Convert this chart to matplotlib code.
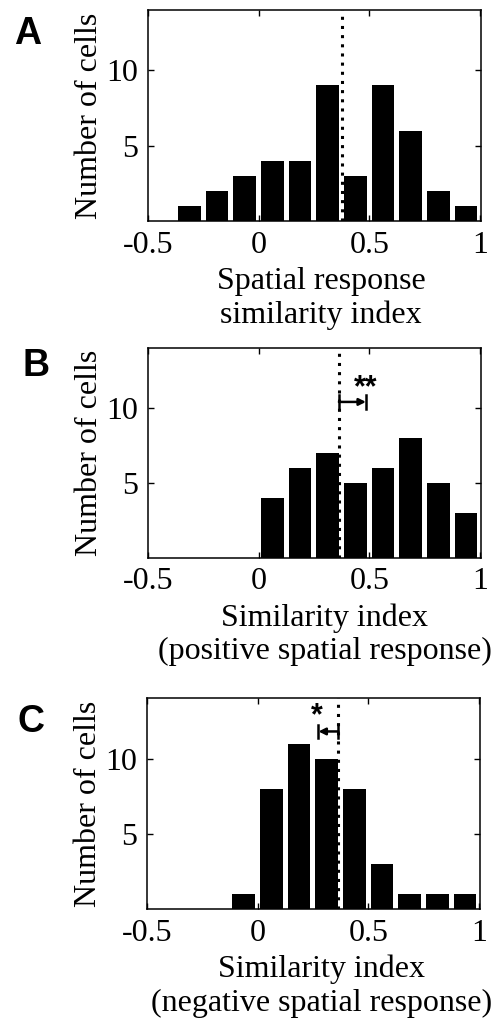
import matplotlib
matplotlib.use("Agg")
import matplotlib.pyplot as plt

# ---- data ----
bin_step = 0.125
a_centers = [-0.3125, -0.1875, -0.0625, 0.0625, 0.1875, 0.3125, 0.4375, 0.5625, 0.6875, 0.8125, 0.9375]
a_counts = [1, 2, 3, 4, 4, 9, 3, 9, 6, 2, 1]
a_mean = 0.376

b_centers = [0.0625, 0.1875, 0.3125, 0.4375, 0.5625, 0.6875, 0.8125, 0.9375]
b_counts = [4, 6, 7, 5, 6, 8, 5, 3]
b_mean = 0.363
b_shift_end = 0.485
b_sig = "**"

c_centers = [-0.0625, 0.0625, 0.1875, 0.3125, 0.4375, 0.5625, 0.6875, 0.8125, 0.9375]
c_counts = [1, 8, 11, 10, 8, 3, 1, 1, 1]
c_mean = 0.365
c_shift_end = 0.275
c_sig = "*"

xticks = [-0.5, 0, 0.5, 1]
xticklabels = ["-0.5", "0", "0.5", "1"]
yticks = [5, 10]
yticklabels = ["5", "10"]

xlabels = ["Spatial response\nsimilarity index",
           "Similarity index\n(positive spatial response)",
           "Similarity index\n(negative spatial response)"]
panel_letters = ["A", "B", "C"]

# ---- figure ----
W, H = 501, 1022
fig = plt.figure(figsize=(W / 100, H / 100), dpi=100)
serif = "Liberation Serif"
fs = 23

rects = [
    (148 / W, 1 - 221 / H, 333 / W, 211 / H),
    (148 / W, 1 - 557.7 / H, 333 / W, 209.7 / H),
    (147 / W, 1 - 909.3 / H, 333 / W, 211 / H),
]
letter_pos = [(28, 34), (36, 366), (31, 722)]
bar_y = [None, 10.4, 11.8]
sig_pos = [None, (0.485, 11.3), (0.266, 12.8)]
label_x = [0.52, 0.53, 0.525]

datasets = [
    (a_centers, a_counts, a_mean, None, None),
    (b_centers, b_counts, b_mean, b_shift_end, b_sig),
    (c_centers, c_counts, c_mean, c_shift_end, c_sig),
]

for i, (rect, (cen, cnt, mean, shift_end, sig)) in enumerate(zip(rects, datasets)):
    ax = fig.add_axes(rect)
    ax.bar(cen, cnt, width=bin_step * 0.82, color="black", edgecolor="none", zorder=2)
    ax.axvline(mean, color="black", lw=2.2, linestyle=(0, (1, 2)), zorder=3)
    ax.set_xlim(-0.5, 1.005)
    ax.set_ylim(0, 14)
    ax.set_xticks(xticks)
    ax.set_xticklabels(xticklabels, fontsize=fs, family=serif)
    ax.set_yticks(yticks)
    ax.set_yticklabels(yticklabels, fontsize=fs, family=serif)
    ax.tick_params(direction="in", length=4, width=1, top=True, right=True, pad=7)
    for s in ax.spines.values():
        s.set_linewidth(1.1)
    ax.set_ylabel("Number of cells", fontsize=fs, family=serif, labelpad=2)
    ax.set_xlabel(xlabels[i], fontsize=fs, family=serif, labelpad=5, linespacing=1.2)
    ax.xaxis.label.set_x(label_x[i])

    if shift_end is not None:
        y = bar_y[i]
        h = 0.45
        ax.plot([mean, mean], [y - h, y + h], color="black", lw=1.8, zorder=4)
        ax.plot([shift_end, shift_end], [y - h, y + h], color="black", lw=1.8, zorder=4)
        ax.annotate("", xy=(shift_end, y), xytext=(mean, y),
                    arrowprops=dict(arrowstyle="-|>", color="black", lw=1.8,
                                    mutation_scale=10, shrinkA=0, shrinkB=0),
                    zorder=4)
        sx, sy = sig_pos[i]
        ax.text(sx, sy, sig, ha="center", va="center",
                fontsize=22, fontweight="bold", family="Liberation Sans")

    fig.text(letter_pos[i][0] / W, 1 - letter_pos[i][1] / H, panel_letters[i],
             fontsize=27, fontweight="bold", family="Liberation Sans",
             ha="center", va="center")

fig.savefig("out.png", dpi=100)
